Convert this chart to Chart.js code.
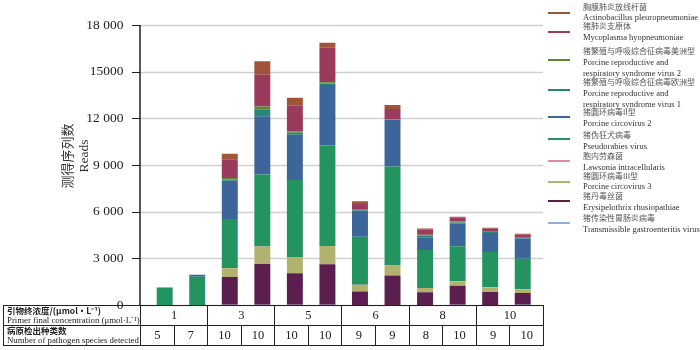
<!DOCTYPE html>
<html lang="zh">
<head>
<meta charset="UTF-8">
<title>测得序列数 Reads</title>
<script src="https://cdn.jsdelivr.net/npm/chart.js"></script>
<style>
  body { margin: 0; background: #fff; }
  #wrap { position: relative; width: 700px; height: 350px; font-family: "Liberation Serif", serif; color: #222; }
  #chart-box { position: absolute; left: 0; top: 0; width: 700px; height: 350px; }
  .ytitle { position: absolute; top: 156px; transform: translate(-50%, -50%) rotate(-90deg); white-space: nowrap; font-size: 13.5px; color: #333; }
  .ytitle.zh { left: 66px; font-family: "Noto Sans CJK SC", sans-serif; font-size: 13px; }
  .ytitle.en { left: 84px; }
  .leg { position: absolute; left: 548px; top: 0; }
  .leg .mark { position: absolute; left: 0; width: 22px; height: 2px; }
  .leg .txt { position: absolute; left: 35px; white-space: nowrap; font-size: 8.5px; color: #333; }
  .leg .txt div { height: 11.5px; line-height: 11.5px; overflow: visible; }
  .leg .txt .zh { font-family: "Noto Sans CJK SC", sans-serif; font-size: 8px; color: #555; }
  table { position: absolute; left: 3px; top: 305px; border-collapse: collapse; table-layout: fixed; width: 541px; }
  td { border: 1px solid #222; padding: 0; height: 19px; text-align: center; font-size: 12.5px; }
  td.lab { text-align: left; font-size: 8.8px; padding-left: 3px; white-space: nowrap; overflow: hidden; }
  td.lab div { height: 9.5px; line-height: 9.5px; }
  td.lab .zh { font-family: "Noto Sans CJK SC", sans-serif; font-weight: bold; font-size: 8.5px; }
</style>
</head>
<body>
<div id="wrap">
  <div id="chart-box"><canvas id="readsChart"></canvas></div>
  <div class="ytitle zh">测得序列数</div>
  <div class="ytitle en">Reads</div>
  <div id="legend"></div>
  <table id="info"></table>
</div>
<script>
// bars: primer final concentration and detected species for each sample
const concentrations = ['1', '1', '3', '3', '5', '5', '6', '6', '8', '8', '10', '10'];
const speciesDetected = [5, 7, 10, 10, 10, 10, 9, 9, 8, 10, 9, 10];
const yTickValues = [0, 3000, 6000, 9000, 12000, 15000, 18000];
const yTickLabels = ['0', '3 000', '6 000', '9 000', '12 000', '15000', '18 000'];

// reads per pathogen, stack bottom first
const tgev           = [0, 0, 10, 10, 10, 10, 0, 0, 0, 10, 0, 10];
const erysipelothrix = [0, 0, 1790, 2630, 2035, 2610, 863, 1890, 822, 1233, 843, 760];
const pcv3           = [0, 0, 570, 1110, 1005, 1170, 430, 638, 270, 287, 287, 226];
const lawsonia       = [0, 0, 10, 10, 10, 10, 10, 10, 0, 10, 10, 10];
const pseudorabies   = [1090, 1810, 3145, 4625, 4975, 6450, 3080, 6370, 2445, 2240, 2270, 1974];
const pcv2           = [30, 140, 2465, 3760, 2915, 3890, 1685, 3000, 825, 1440, 1225, 1295];
const prrsv1         = [0, 0, 80, 450, 125, 100, 30, 20, 100, 80, 60, 40];
const prrsv2         = [0, 0, 90, 165, 105, 85, 30, 20, 60, 65, 10, 10];
const mycoplasma     = [0, 0, 1210, 2050, 1640, 2220, 375, 655, 310, 245, 205, 200];
const actinobacillus = [0, 0, 350, 865, 500, 325, 165, 265, 90, 60, 60, 60];

const seriesZh = ['猪传染性胃肠炎病毒', '猪丹毒丝菌', '猪圆环病毒III型', '胞内劳森菌', '猪伪狂犬病毒',
  '猪圆环病毒II型', '猪繁殖与呼吸综合征病毒欧洲型', '猪繁殖与呼吸综合征病毒美洲型', '猪肺炎支原体', '胸膜肺炎放线杆菌'];
const seriesEn = ['Transmissible gastroenteritis virus', 'Erysipelothrix rhusiopathiae', 'Porcine circovirus 3',
  'Lawsonia intracellularis', 'Pseudorabies virus', 'Porcine circovirus 2',
  'Porcine reproductive and\nrespiratory syndrome virus 1', 'Porcine reproductive and\nrespiratory syndrome virus 2',
  'Mycoplasma hyopneumoniae', 'Actinobacillus pleuropneumoniae'];
const seriesValues = [tgev, erysipelothrix, pcv3, lawsonia, pseudorabies, pcv2, prrsv1, prrsv2, mycoplasma, actinobacillus];

const colors = ['#8fb0de', '#5a1f4f', '#b0b26e', '#e08aa8', '#23935f', '#3d6599', '#2a8677', '#5b8a32', '#9a3a5c', '#a0553a'];

// layout (pixels)
const AXIS_X = 140, GRID_RIGHT = 543;
const legendTextTop = [212, 190, 169.5, 150, 129, 106, 76, 45, 20, 0.5];
const legendMarkY = [223, 201, 181.5, 160.5, 139, 117, 90, 60, 32, 13];

const axisPlugin = {
  id: 'axisLines',
  beforeDatasetsDraw(chart) {
    const { ctx, scales: { y } } = chart;
    ctx.save();
    y.ticks.forEach(t => {
      const py = Math.round(y.getPixelForValue(t.value)) + 0.5;
      ctx.strokeStyle = '#d0d0d0';
      ctx.lineWidth = 1.6;
      ctx.beginPath(); ctx.moveTo(AXIS_X, py); ctx.lineTo(GRID_RIGHT, py); ctx.stroke();
      ctx.strokeStyle = '#222';
      ctx.lineWidth = 1;
      ctx.beginPath(); ctx.moveTo(AXIS_X - 8, py); ctx.lineTo(AXIS_X, py); ctx.stroke();
    });
    ctx.strokeStyle = '#111';
    ctx.lineWidth = 1.4;
    ctx.beginPath();
    ctx.moveTo(AXIS_X, y.getPixelForValue(18000));
    ctx.lineTo(AXIS_X, y.getPixelForValue(0));
    ctx.stroke();
    ctx.restore();
  }
};

new Chart(document.getElementById('readsChart'), {
  type: 'bar',
  data: {
    labels: concentrations,
    datasets: seriesValues.map((vals, i) => ({
      label: seriesEn[i],
      data: vals,
      backgroundColor: colors[i],
      borderWidth: 0,
      barPercentage: 0.49,
      categoryPercentage: 1
    }))
  },
  options: {
    responsive: true,
    maintainAspectRatio: false,
    animation: false,
    layout: { padding: { left: 0, right: 161, top: 13, bottom: 45 } },
    plugins: { legend: { display: false }, tooltip: { enabled: false } },
    scales: {
      x: { stacked: true, display: false },
      y: {
        stacked: true,
        min: 0,
        max: 18000,
        afterBuildTicks: s => { s.ticks = yTickValues.map(v => ({ value: v })); },
        afterFit: s => { s.width = 148.4; },
        grid: { display: false },
        border: { display: false },
        ticks: {
          padding: 17,
          color: '#222',
          font: { family: 'Liberation Serif', size: 13.5 },
          callback: (v, i) => yTickLabels[i]
        }
      }
    }
  },
  plugins: [axisPlugin]
});

// legend, top of stack first
const legend = document.getElementById('legend');
for (let k = 0; k < seriesValues.length; k++) {
  const i = seriesValues.length - 1 - k;
  const item = document.createElement('div');
  item.className = 'leg';
  const lines = ['<div class="zh">' + seriesZh[i] + '</div>']
    .concat(seriesEn[i].split('\n').map(s => '<div>' + s + '</div>'));
  item.innerHTML = '<span class="mark" style="top:' + (legendMarkY[i] - 1) + 'px;background:' + colors[i] + '"></span>' +
    '<div class="txt" style="top:' + legendTextTop[i] + 'px">' + lines.join('') + '</div>';
  legend.appendChild(item);
}

// table under the axis
const table = document.getElementById('info');
let html = '<colgroup><col style="width:137px">' + '<col style="width:33.58px">'.repeat(12) + '</colgroup>';
html += '<tr><td class="lab"><div class="zh">引物终浓度/(μmol·L⁻¹)</div><div>Primer final concentration (μmol·L⁻¹)</div></td>';
for (let i = 0; i < concentrations.length; i += 2) html += '<td colspan="2">' + concentrations[i] + '</td>';
html += '</tr><tr><td class="lab"><div class="zh">病原检出种类数</div><div>Number of pathogen species detected</div></td>';
speciesDetected.forEach(n => { html += '<td>' + n + '</td>'; });
html += '</tr>';
table.innerHTML = html;
</script>
</body>
</html>
